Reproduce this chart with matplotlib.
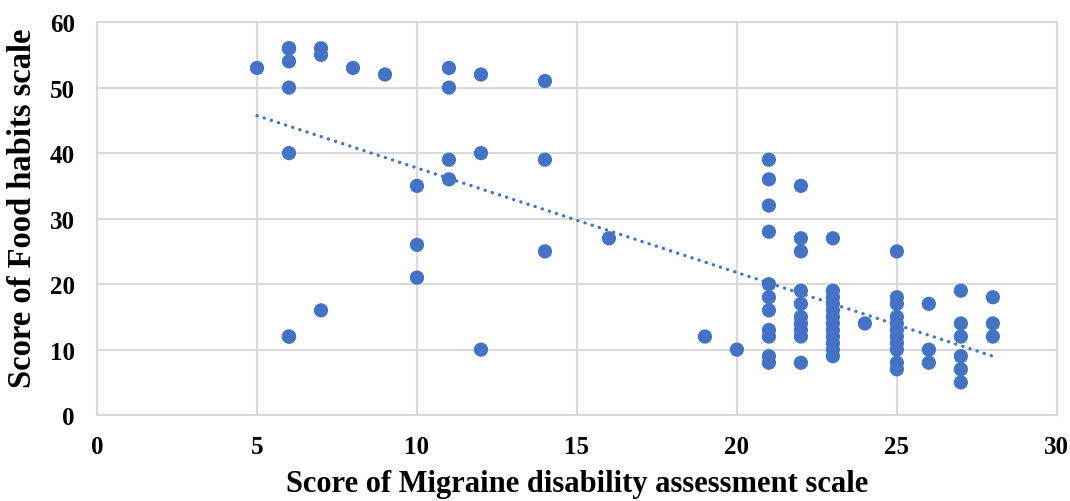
"""Scatter of migraine disability score vs food habits score with a linear trend line."""

import matplotlib
matplotlib.use("Agg")
import matplotlib.pyplot as plt
import numpy as np

# x = MIDAS score, y = food habits score (one entry per respondent)
midas = [
    5,
    6, 6, 6, 6, 6, 6, 6,
    7, 7, 7,
    8, 9,
    10, 10, 10,
    11, 11, 11, 11,
    12, 12, 12,
    14, 14, 14,
    16, 19, 20,
    21, 21, 21, 21, 21, 21, 21, 21, 21, 21, 21,
    22, 22, 22, 22, 22, 22, 22, 22, 22, 22,
    23, 23, 23, 23, 23, 23, 23, 23, 23, 23, 23, 23,
    24,
    25, 25, 25, 25, 25, 25, 25, 25, 25, 25, 25,
    26, 26, 26,
    27, 27, 27, 27, 27, 27,
    28, 28, 28,
]
food = [
    53,
    56, 56, 54, 50, 40, 12, 12,
    56, 55, 16,
    53, 52,
    35, 26, 21,
    53, 50, 39, 36,
    52, 40, 10,
    51, 39, 25,
    27, 12, 10,
    39, 36, 32, 28, 20, 18, 16, 13, 12, 9, 8,
    35, 27, 25, 19, 17, 15, 14, 13, 12, 8,
    27, 19, 18, 17, 16, 15, 14, 13, 12, 11, 10, 9,
    14,
    25, 18, 17, 15, 14, 13, 12, 11, 10, 8, 7,
    17, 10, 8,
    19, 14, 12, 9, 7, 5,
    18, 14, 12,
]

x_ticks = [0, 5, 10, 15, 20, 25, 30]
y_ticks = [0, 10, 20, 30, 40, 50, 60]

BLUE = "#4472C4"
GRID = "#D9D9D9"
FONT = ["Liberation Serif", "DejaVu Serif"]

plt.rcParams["font.family"] = FONT
plt.rcParams["font.weight"] = "bold"

fig = plt.figure(figsize=(10.7, 5.02), dpi=100)
ax = fig.add_axes([0.0907, 0.171, 0.897, 0.783])

x = np.asarray(midas, dtype=float)
y = np.asarray(food, dtype=float)

ax.scatter(x, y, s=105, color=BLUE, edgecolors="none", zorder=3)

# Linear trend line over the observed x range
slope, intercept = np.polyfit(x, y, 1)
xs = np.array([x.min(), x.max()])
ax.plot(xs, slope * xs + intercept, color=BLUE, linewidth=2.4,
        linestyle=(0, (0.05, 2.2)), dash_capstyle="round", zorder=4)

ax.set_xlim(0, 30)
ax.set_ylim(0, 60)
ax.set_xticks(x_ticks)
ax.set_yticks(y_ticks)
ax.grid(True, color=GRID, linewidth=1.5, zorder=0)
ax.set_axisbelow(True)
ax.tick_params(length=0, labelsize=18)
ax.tick_params(axis="x", pad=14)
ax.tick_params(axis="y", pad=16)
for side in ax.spines.values():
    side.set_color(GRID)
    side.set_linewidth(1.5)

ax.set_xlabel("Score of Migraine disability assessment scale", fontsize=22,
              fontweight="bold", labelpad=8)
ax.set_ylabel("Score of Food habits scale", fontsize=23.5, fontweight="bold")
ax.yaxis.set_label_coords(-0.062, 0.53)

fig.savefig("out.png", dpi=100)
